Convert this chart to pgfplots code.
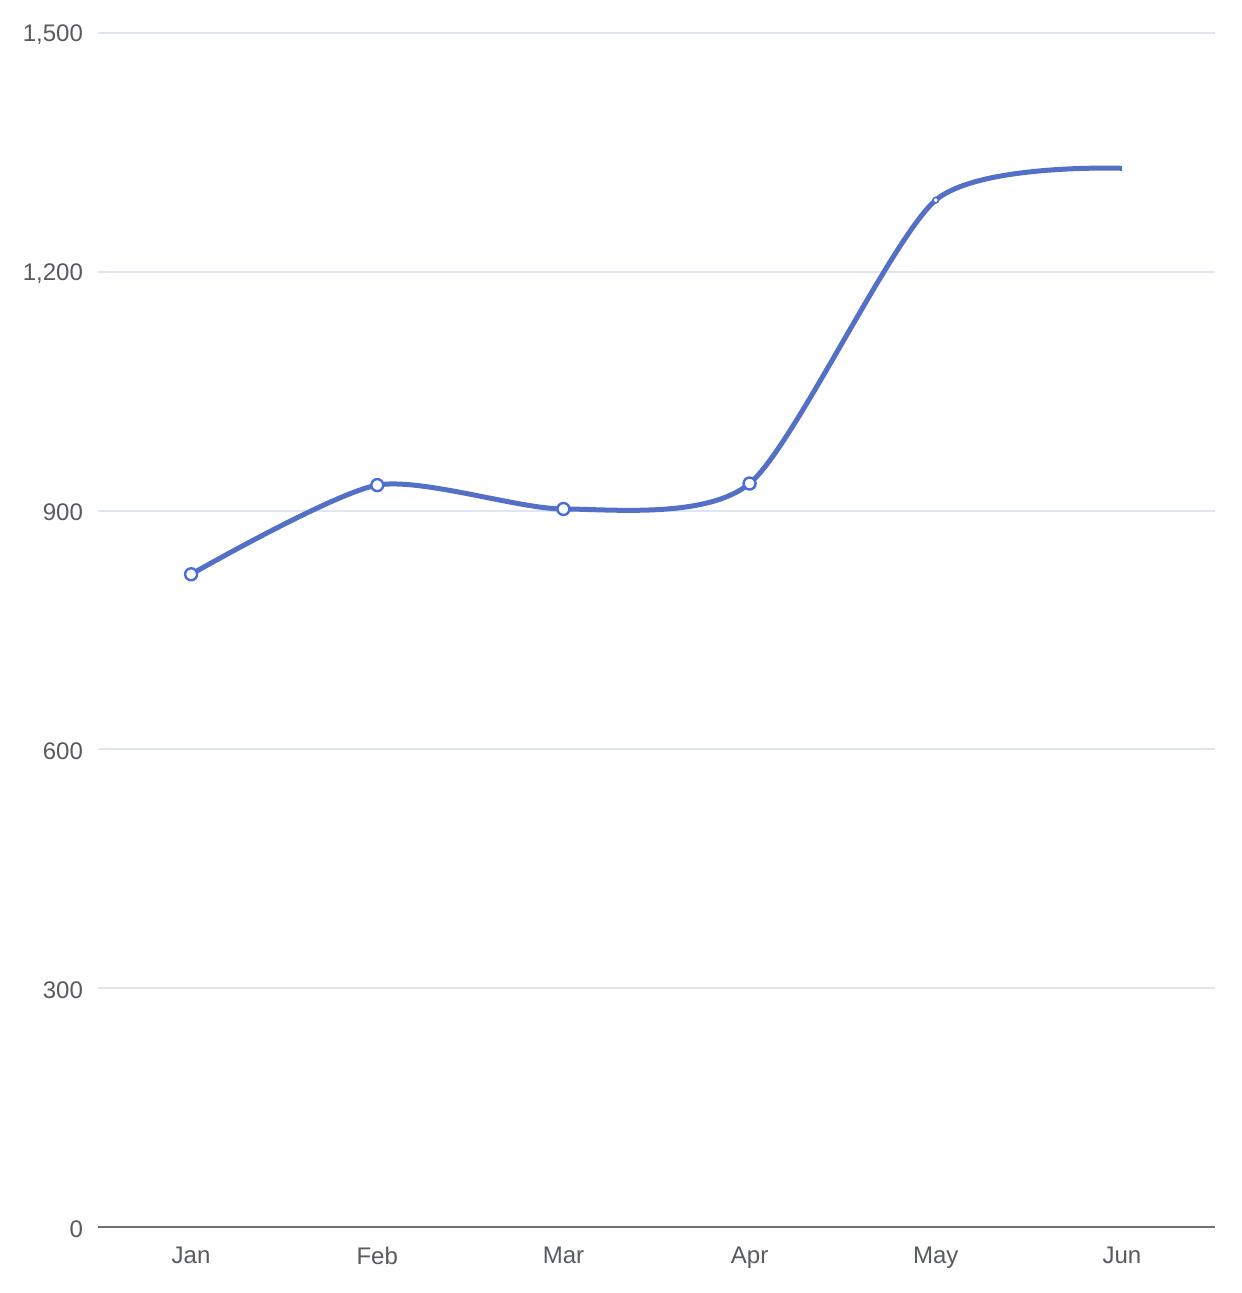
\documentclass[border=0pt]{standalone}
\usepackage{pgfplots}
\pgfplotsset{compat=1.18}
\usepackage{fontspec}
\setmainfont{Liberation Sans}
\definecolor{lineblue}{HTML}{5470C6}
\definecolor{markblue}{HTML}{4A6BE0}
\definecolor{gridc}{HTML}{E0E6F1}
\definecolor{labc}{HTML}{6E7079}
\begin{document}
\begin{tikzpicture}
\path[use as bounding box] (0,0) rectangle (620.5pt,646.5pt);
\begin{axis}[
  at={(49pt,33pt)}, anchor=south west,
  scale only axis, width=558.5pt, height=597pt,
  xmin=-0.5, xmax=5.5, ymin=0, ymax=1500,
  xtick={0,1,2,3,4,5},
  xticklabels={Jan,Feb,Mar,Apr,May,Jun},
  ytick={0,300,600,900,1200,1500},
  axis x line*=bottom, axis y line*=left,
  x axis line style={draw=labc, line width=1pt, -},
  y axis line style={draw=none},
  major tick length=0pt,
  ymajorgrids, grid style={draw=gridc, line width=1pt},
  tick label style={font=\fontsize{12pt}{14pt}\selectfont, text=labc!80!black},
  yticklabel style={xshift=-4pt, yshift=-1pt},
  xticklabel style={yshift=-6.5pt},
  /pgf/number format/.cd, 1000 sep={,}, assume math mode=true,
  /pgfplots/.cd,
  clip=false,
]
\addplot[lineblue, line width=2.5pt, smooth, tension=0.42] coordinates {
  (0,820) (1,932) (2,902) (3,934) (4,1290) (5,1330)
};
\addplot[only marks, mark=*, mark size=3pt, mark options={draw=markblue, fill=white, line width=1.2pt}] coordinates {
  (0,820) (1,932) (2,902) (3,934)
};
\addplot[only marks, mark=*, mark size=1.4pt, mark options={draw=markblue, fill=white, line width=0.8pt}] coordinates {
  (4,1290)
};
\end{axis}
\end{tikzpicture}
\end{document}
